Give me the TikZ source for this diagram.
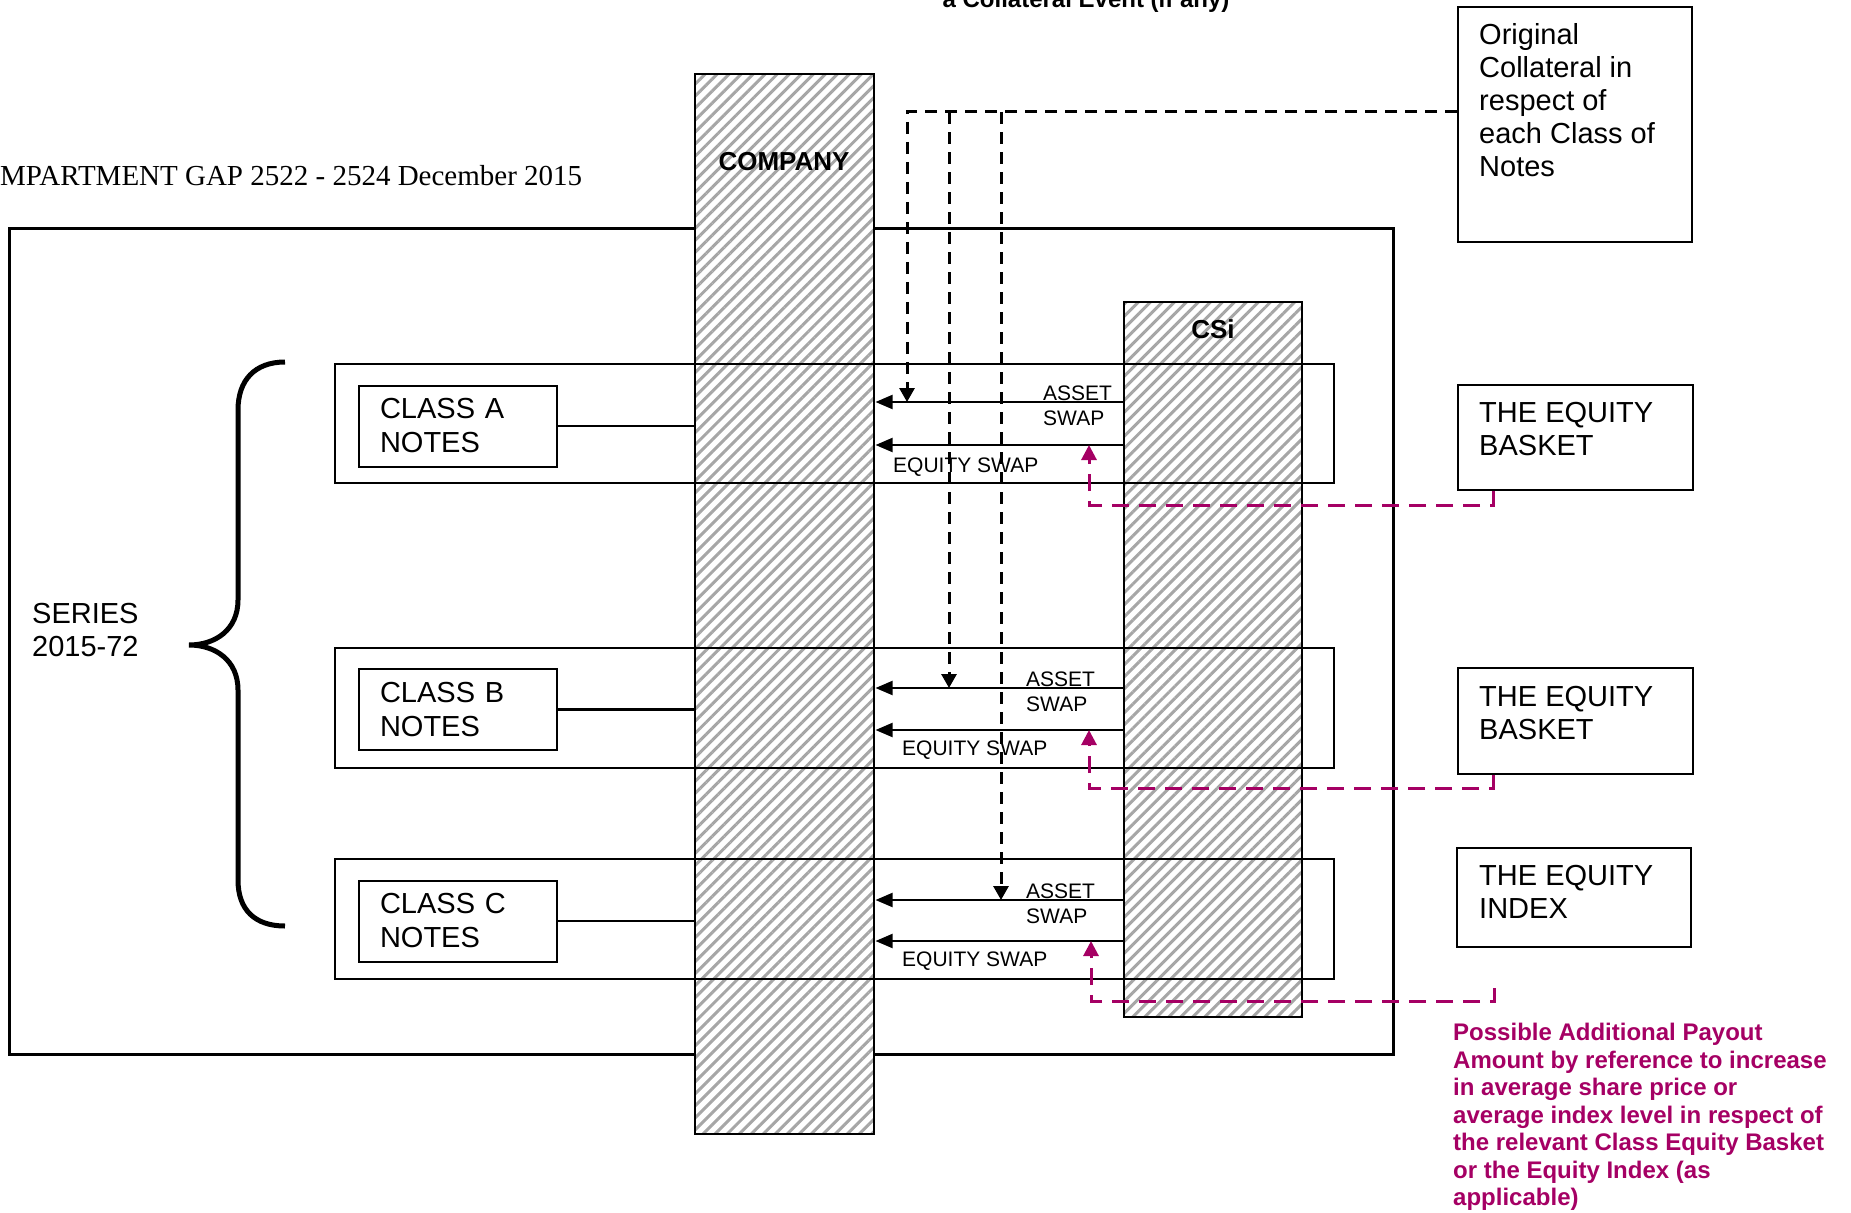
\documentclass[tikz,border=0pt]{standalone}
\usepackage{fontspec}
\setmainfont{Liberation Sans}
\newfontfamily\serifface{Liberation Serif}
\usetikzlibrary{arrows.meta,patterns.meta}
\definecolor{payout}{RGB}{165,0,100}

\begin{document}
\begin{tikzpicture}[x=1pt,y=-1pt,
  hatched/.style={draw=black, line width=2, preaction={fill=white},
    pattern={Lines[angle=45,distance=8.5pt,line width=3pt]}, pattern color=gray!70},
  plainbox/.style={draw=black, line width=2, fill=white, inner sep=0},
  rowbox/.style={draw=black, line width=2, inner sep=0},
  big/.style={font=\fontsize{29}{33}\selectfont, align=left},
  small/.style={font=\fontsize{21}{25}\selectfont, align=left, inner sep=0},
  head/.style={font=\fontsize{26}{30}\selectfont\bfseries},
  swaparrow/.style={line width=2, -{Triangle[length=17pt,width=14pt]}},
  feedline/.style={line width=3, dash pattern=on 12pt off 8pt, -{Triangle[length=14pt,width=15pt]}},
  payline/.style={payout, line width=3, dash pattern=on 17pt off 10pt, -{Triangle[length=15pt,width=15pt]}}]
  \useasboundingbox (0,0) rectangle (1851,1212);

  % compartment frame and headings
  \node[rowbox, line width=3, minimum width=1384, minimum height=826] (compartment) at (701,641) {};
  \node[font=\serifface\fontsize{29}{33}\selectfont, anchor=base west, inner sep=0] (title) at (0,185) {MPARTMENT GAP 2522 - 2524 December 2015};
  \node[font=\fontsize{24}{28}\selectfont\bfseries, anchor=base, inner sep=0] (eventnote) at (1086,8) {a Collateral Event (if any)};

  % parties
  \node[hatched, minimum width=179, minimum height=1060] (company) at (784.5,604) {};
  \node[head] (companylabel) at (784,162) {COMPANY};
  \node[hatched, minimum width=178, minimum height=715] (csi) at (1213,659.5) {};
  \node[head] (csilabel) at (1213,329) {CSi};

  % classes
  \node[rowbox, minimum width=999, minimum height=119] (rowA) at (834.5,423.5) {};
  \node[plainbox, big, font=\fontsize{29}{34}\selectfont, minimum width=198, minimum height=81, text width=156, inner xsep=21] (notesA) at (458,426) {CLASS A\\NOTES};
  \draw[line width=2] (notesA.east) -- (notesA.east -| company.west);
  \node[rowbox, minimum width=999, minimum height=120] (rowB) at (834.5,708) {};
  \node[plainbox, big, font=\fontsize{29}{34}\selectfont, minimum width=198, minimum height=81, text width=156, inner xsep=21] (notesB) at (458,709.5) {CLASS B\\NOTES};
  \draw[line width=2.5] (notesB.east) -- (notesB.east -| company.west);
  \node[rowbox, minimum width=999, minimum height=120] (rowC) at (834.5,919) {};
  \node[plainbox, big, font=\fontsize{29}{34}\selectfont, minimum width=198, minimum height=81, text width=156, inner xsep=21] (notesC) at (458,921) {CLASS C\\NOTES};
  \draw[line width=2.5] (notesC.east) -- (notesC.east -| company.west);

  % series brace
  \draw[line width=5] (285,362) .. controls (255,362) and (238,380) .. (238,410) -- (238,600)
    .. controls (238,630) and (215,645) .. (189,645) .. controls (215,645) and (238,660) .. (238,690)
    -- (238,880) .. controls (238,910) and (255,926) .. (285,926);
  \node[big, anchor=west, inner sep=0] (series) at (32,630) {SERIES\\2015-72};

  % swaps
  \coordinate (assetA) at (0,402);
  \coordinate (equityA) at (0,445);
  \draw[swaparrow] (csi.west |- assetA) -- (company.east |- assetA);
  \draw[swaparrow] (csi.west |- equityA) -- (company.east |- equityA);
  \node[small, anchor=west] (assetlabelA) at (1043,406) {ASSET\\SWAP};
  \node[small, anchor=west] (equitylabelA) at (893,467) {EQUITY SWAP};
  \coordinate (assetB) at (0,688);
  \coordinate (equityB) at (0,730);
  \draw[swaparrow] (csi.west |- assetB) -- (company.east |- assetB);
  \draw[swaparrow] (csi.west |- equityB) -- (company.east |- equityB);
  \node[small, anchor=west] (assetlabelB) at (1026,692) {ASSET\\SWAP};
  \node[small, anchor=west] (equitylabelB) at (902,750) {EQUITY SWAP};
  \coordinate (assetC) at (0,900);
  \coordinate (equityC) at (0,941);
  \draw[swaparrow] (csi.west |- assetC) -- (company.east |- assetC);
  \draw[swaparrow] (csi.west |- equityC) -- (company.east |- equityC);
  \node[small, anchor=west] (assetlabelC) at (1026,904) {ASSET\\SWAP};
  \node[small, anchor=west] (equitylabelC) at (902,961) {EQUITY SWAP};

  % right hand boxes
  \node[plainbox, minimum width=234, minimum height=235] (collateral) at (1575,124.5) {};
  \node[big, anchor=north west, inner sep=0] (collateraltext) at (1479,23) {Original\\Collateral in\\respect of\\each Class of\\Notes};
  \node[plainbox, minimum width=235, minimum height=105] (basketA) at (1575.5,437.5) {};
  \node[big, anchor=north west, inner sep=0] (basketAtext) at (1479,402) {THE EQUITY\\BASKET};
  \node[plainbox, minimum width=235, minimum height=106] (basketB) at (1575.5,721) {};
  \node[big, anchor=north west, inner sep=0] (basketBtext) at (1479,686) {THE EQUITY\\BASKET};
  \node[plainbox, minimum width=234, minimum height=99] (indexbox) at (1574,897.5) {};
  \node[big, anchor=north west, inner sep=0] (indextext) at (1479,865) {THE EQUITY\\INDEX};

  % collateral feed
  \coordinate (feedA) at (907,402);
  \coordinate (feedB) at (949,688);
  \coordinate (feedC) at (1001,900);
  \draw[feedline] (collateral.west |- 0,112) -| (feedA);
  \draw[feedline] (feedB |- 0,112) -- (feedB);
  \draw[feedline] (feedC |- 0,112) -- (feedC);

  % additional payout
  \coordinate (payA) at (1089,445);
  \coordinate (payB) at (1089,730);
  \coordinate (payC) at (1091,941);
  \draw[payline] (basketA.south -| 1493,0) -- ++(0,14) -| (payA);
  \draw[payline] (basketB.south -| 1493,0) -- ++(0,13) -| (payB);
  \draw[payline] (indexbox.south -| 1494,0) ++(0,40) -- ++(0,13) -| (payC);
  \node[font=\fontsize{24}{27.5}\selectfont\bfseries, text=payout, align=left, anchor=north west, inner sep=0] (payouttext) at (1453,1023)
    {Possible Additional Payout\\Amount by reference to increase\\in average share price or\\average index level in respect of\\the relevant Class Equity Basket\\or the Equity Index (as\\applicable)};
\end{tikzpicture}
\end{document}
